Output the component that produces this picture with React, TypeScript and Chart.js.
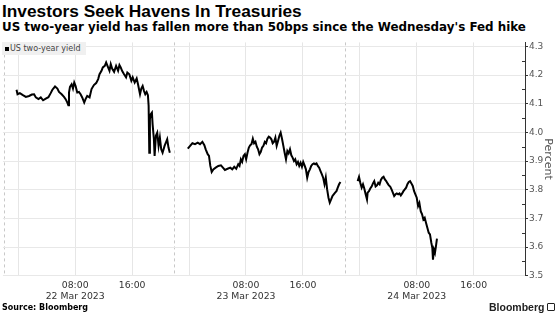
import React, { useEffect, useRef } from 'react';
import { Chart, registerables } from 'chart.js';

Chart.register(...registerables);

// ---- data (hours since 22 Mar 2023 00:00, yield in %) ----
const seriesName = 'US two-year yield';

const day1Hours = [-0.24, -0.1, 0.23, 0.6, 1.07, 1.53, 1.91, 2.23, 2.47, 2.84, 3.17, 3.49, 3.87, 4.24, 4.56, 4.8, 5.17, 5.5, 5.73, 6.1, 6.43, 6.66, 6.9, 7.04, 7.13, 7.27, 7.5, 7.69, 7.87, 8.06, 8.29, 8.53, 8.76, 8.99, 9.27, 9.46, 9.69, 10.02, 10.3, 10.63, 10.95, 11.23, 11.42, 11.7, 11.88, 12.16, 12.35, 12.54, 12.82, 13.0, 13.19, 13.47, 13.75, 14.03, 14.22, 14.4, 14.59, 14.87, 15.15, 15.33, 15.61, 15.89, 16.08, 16.36, 16.64, 16.83, 17.11, 17.29, 17.48, 17.67, 17.85, 18.04, 18.22, 18.32, 18.41, 18.5, 18.6, 18.78, 18.88, 19.06, 19.16, 19.34, 19.53, 19.72, 19.9, 20.09, 20.28, 20.56, 20.74, 20.93, 21.11, 21.3];
const day1Values = [4.149, 4.133, 4.137, 4.131, 4.124, 4.127, 4.132, 4.133, 4.122, 4.116, 4.122, 4.112, 4.118, 4.123, 4.137, 4.149, 4.16, 4.153, 4.141, 4.133, 4.124, 4.116, 4.104, 4.095, 4.139, 4.159, 4.168, 4.153, 4.174, 4.162, 4.139, 4.141, 4.133, 4.122, 4.104, 4.116, 4.127, 4.122, 4.151, 4.165, 4.172, 4.186, 4.203, 4.215, 4.227, 4.232, 4.244, 4.232, 4.215, 4.238, 4.223, 4.211, 4.232, 4.215, 4.235, 4.227, 4.215, 4.203, 4.192, 4.209, 4.203, 4.18, 4.192, 4.174, 4.188, 4.168, 4.133, 4.153, 4.162, 4.145, 4.133, 4.141, 4.13, 4.093, 3.929, 4.046, 4.063, 4.069, 4.028, 3.976, 3.918, 3.988, 3.999, 3.953, 3.982, 3.941, 3.929, 3.953, 3.964, 3.976, 3.947, 3.929];

const day2Hours = [23.82, 24.15, 24.47, 24.84, 25.22, 25.54, 25.87, 26.15, 26.34, 26.62, 26.8, 26.99, 27.18, 27.41, 27.74, 28.11, 28.48, 28.76, 29.04, 29.41, 29.79, 30.07, 30.35, 30.63, 30.91, 31.09, 31.28, 31.46, 31.65, 31.84, 32.02, 32.21, 32.4, 32.58, 32.77, 32.96, 33.14, 33.33, 33.52, 33.7, 33.89, 34.08, 34.26, 34.45, 34.64, 34.82, 35.01, 35.2, 35.38, 35.57, 35.75, 35.94, 36.13, 36.31, 36.5, 36.69, 36.87, 37.06, 37.25, 37.43, 37.62, 37.81, 37.99, 38.18, 38.37, 38.55, 38.74, 38.92, 39.11, 39.3, 39.48, 39.67, 39.86, 40.04, 40.23, 40.42, 40.6, 40.79, 40.98, 41.16, 41.35, 41.54, 41.72, 41.91, 42.09, 42.28, 42.47, 42.65, 42.84, 43.03, 43.21, 43.4, 43.59, 43.77, 43.96, 44.15, 44.33, 44.52, 44.71, 44.89, 45.08, 45.27];
const day2Values = [3.943, 3.953, 3.962, 3.959, 3.964, 3.959, 3.967, 3.955, 3.941, 3.924, 3.918, 3.883, 3.862, 3.871, 3.877, 3.883, 3.885, 3.877, 3.869, 3.873, 3.877, 3.871, 3.88, 3.873, 3.889, 3.883, 3.906, 3.897, 3.918, 3.924, 3.906, 3.929, 3.947, 3.955, 3.959, 3.978, 3.962, 3.967, 3.95, 3.941, 3.924, 3.932, 3.947, 3.953, 3.967, 3.962, 3.978, 3.985, 3.982, 3.976, 3.962, 3.967, 3.982, 3.953, 3.97, 3.988, 3.999, 3.978, 3.953, 3.929, 3.906, 3.935, 3.927, 3.941, 3.92, 3.912, 3.9, 3.906, 3.889, 3.897, 3.883, 3.894, 3.88, 3.897, 3.885, 3.871, 3.842, 3.862, 3.871, 3.883, 3.889, 3.892, 3.889, 3.892, 3.883, 3.877, 3.865, 3.854, 3.842, 3.819, 3.842, 3.801, 3.772, 3.755, 3.766, 3.778, 3.784, 3.79, 3.795, 3.807, 3.819, 3.827];

const day3Hours = [47.69, 47.88, 48.06, 48.25, 48.44, 48.62, 48.81, 49.0, 49.09, 49.28, 49.46, 49.65, 49.84, 50.02, 50.21, 50.4, 50.58, 50.77, 50.95, 51.14, 51.33, 51.51, 51.7, 51.89, 52.07, 52.26, 52.45, 52.63, 52.82, 53.01, 53.19, 53.38, 53.57, 53.75, 53.94, 54.12, 54.31, 54.5, 54.68, 54.87, 55.06, 55.24, 55.43, 55.62, 55.8, 55.99, 56.18, 56.36, 56.55, 56.74, 56.92, 57.11, 57.29, 57.48, 57.67, 57.85, 58.04, 58.18, 58.27, 58.41, 58.55, 58.69, 58.83];
const day3Values = [3.83, 3.845, 3.824, 3.807, 3.819, 3.804, 3.784, 3.766, 3.79, 3.795, 3.804, 3.811, 3.822, 3.83, 3.811, 3.815, 3.824, 3.819, 3.834, 3.842, 3.845, 3.836, 3.83, 3.822, 3.815, 3.811, 3.801, 3.79, 3.778, 3.784, 3.787, 3.784, 3.787, 3.78, 3.787, 3.795, 3.801, 3.807, 3.819, 3.827, 3.83, 3.822, 3.813, 3.795, 3.784, 3.772, 3.743, 3.754, 3.725, 3.714, 3.696, 3.702, 3.685, 3.667, 3.65, 3.644, 3.615, 3.597, 3.556, 3.591, 3.58, 3.603, 3.629];

const gapHours = [22, 46.5];

const xTickHours = [-2, 0, 8, 16, 22, 24, 32, 40, 46, 48, 56, 64];
const xSessionBreaks = [-2, 22, 46];
const xTickLabels: Record<number, string | string[]> = {
  8: ['08:00', '22 Mar 2023'],
  16: '16:00',
  32: ['08:00', '23 Mar 2023'],
  40: '16:00',
  56: ['08:00', '24 Mar 2023'],
  64: '16:00',
};
const yTicks = [3.5, 3.6, 3.7, 3.8, 3.9, 4.0, 4.1, 4.2, 4.3];
const yMinorTicks = [3.55, 3.65, 3.75, 3.85, 3.95, 4.05, 4.15, 4.25];

const FONT = '"DejaVu Sans", sans-serif';

function buildPoints() {
  const pts: { x: number; y: number | null }[] = [];
  day1Hours.forEach((h, i) => pts.push({ x: h, y: day1Values[i] }));
  pts.push({ x: gapHours[0], y: null });
  day2Hours.forEach((h, i) => pts.push({ x: h, y: day2Values[i] }));
  pts.push({ x: gapHours[1], y: null });
  day3Hours.forEach((h, i) => pts.push({ x: h, y: day3Values[i] }));
  return pts;
}

const minorTickPlugin = {
  id: 'minorTicks',
  afterDraw(chart: any) {
    const y = chart.scales.y;
    const ctx = chart.ctx;
    ctx.save();
    ctx.strokeStyle = '#333';
    ctx.lineWidth = 1;
    yMinorTicks.forEach((v) => {
      const py = Math.round(y.getPixelForValue(v)) + 0.5;
      ctx.beginPath();
      ctx.moveTo(y.left - 3, py);
      ctx.lineTo(y.left, py);
      ctx.stroke();
    });
    ctx.restore();
  },
};

export default function App() {
  const canvasRef = useRef<HTMLCanvasElement | null>(null);

  useEffect(() => {
    if (!canvasRef.current) return;
    const chart = new Chart(canvasRef.current, {
      type: 'line',
      data: {
        datasets: [
          {
            label: seriesName,
            data: buildPoints() as any,
            borderColor: '#000',
            borderWidth: 2,
            pointRadius: 0,
            tension: 0,
            spanGaps: false,
          },
        ],
      },
      options: {
        animation: false,
        responsive: true,
        maintainAspectRatio: false,
        layout: { padding: { top: 4, left: 0, right: 0, bottom: 0 } },
        plugins: { legend: { display: false }, tooltip: { enabled: false } },
        scales: {
          x: {
            type: 'linear',
            min: -2.15,
            max: 71.2,
            afterBuildTicks: (scale: any) => {
              scale.ticks = xTickHours.map((v) => ({ value: v }));
            },
            ticks: {
              autoSkip: false,
              maxRotation: 0,
              padding: 4,
              color: '#333',
              font: { family: FONT, size: 9.3 },
              callback: (v: any) => xTickLabels[v as number] ?? '',
            },
            grid: {
              drawTicks: false,
              color: (c: any) =>
                c.tick && xSessionBreaks.includes(c.tick.value) ? '#c8c8c8' : '#e6e6e6',
              lineWidth: 1,
            },
            border: {
              display: false,
              dash: (c: any) =>
                c.tick && xSessionBreaks.includes(c.tick.value) ? [3, 3] : [],
            },
          },
          y: {
            type: 'linear',
            position: 'right',
            min: 3.5,
            max: 4.314,
            afterBuildTicks: (scale: any) => {
              scale.ticks = yTicks.map((v) => ({ value: v }));
            },
            afterFit: (scale: any) => {
              scale.width = 35;
            },
            ticks: {
              padding: 1,
              color: '#555',
              font: { family: FONT, size: 9 },
              callback: (v: any) => Number(v).toFixed(1),
            },
            grid: {
              color: '#e8e8e8',
              drawTicks: true,
              tickLength: 3,
              tickColor: '#333',
            },
            border: { display: true, color: '#333', width: 1 },
            title: {
              display: true,
              text: 'Percent',
              color: '#555',
              font: { family: FONT, size: 11 },
              padding: { top: 6, bottom: 0 },
            },
          },
        },
      },
      plugins: [minorTickPlugin],
    });
    return () => chart.destroy();
  }, []);

  return (
    <div
      style={{
        position: 'absolute',
        left: 0,
        top: 0,
        width: 560,
        height: 314,
        background: '#fff',
        overflow: 'hidden',
      }}
    >
      <div
        style={{
          position: 'absolute',
          left: 2,
          top: 1,
          font: 'bold 17.3px "Liberation Sans", Arial, sans-serif',
          lineHeight: '20px',
          color: '#000',
          whiteSpace: 'nowrap',
        }}
      >
        Investors Seek Havens In Treasuries
      </div>
      <div
        style={{
          position: 'absolute',
          left: 2,
          top: 20,
          font: 'bold 11.9px "DejaVu Sans", sans-serif',
          lineHeight: '14px',
          color: '#000',
          whiteSpace: 'nowrap',
        }}
      >
        US two-year yield has fallen more than 50bps since the Wednesday's Fed hike
      </div>
      <div style={{ position: 'absolute', left: 0, top: 36, width: 560, height: 270 }}>
        <canvas ref={canvasRef} />
      </div>
      <div
        style={{
          position: 'absolute',
          left: 2,
          top: 42,
          height: 13,
          padding: '0 5px 0 3px',
          background: '#f0f0f0',
          display: 'flex',
          alignItems: 'center',
          font: '8px "DejaVu Sans", sans-serif',
          color: '#444',
          whiteSpace: 'nowrap',
        }}
      >
        <span
          style={{ display: 'inline-block', width: 4, height: 4, background: '#000', marginRight: 1 }}
        />
        {seriesName}
      </div>
      <div
        style={{
          position: 'absolute',
          left: 2,
          top: 303,
          font: 'bold 8px "DejaVu Sans", sans-serif',
          lineHeight: '10px',
          color: '#000',
          whiteSpace: 'nowrap',
        }}
      >
        Source: Bloomberg
      </div>
      <div
        style={{
          position: 'absolute',
          left: 489,
          top: 301,
          font: 'bold 10.5px "Liberation Sans", Arial, sans-serif',
          lineHeight: '12px',
          color: '#222',
          whiteSpace: 'nowrap',
          display: 'flex',
          alignItems: 'center',
        }}
      >
        Bloomberg
        <span
          style={{
            display: 'inline-block',
            width: 6,
            height: 6,
            marginLeft: 3,
            border: '1.5px solid #222',
            borderRadius: 1,
            background: '#fff',
          }}
        />
      </div>
    </div>
  );
}
